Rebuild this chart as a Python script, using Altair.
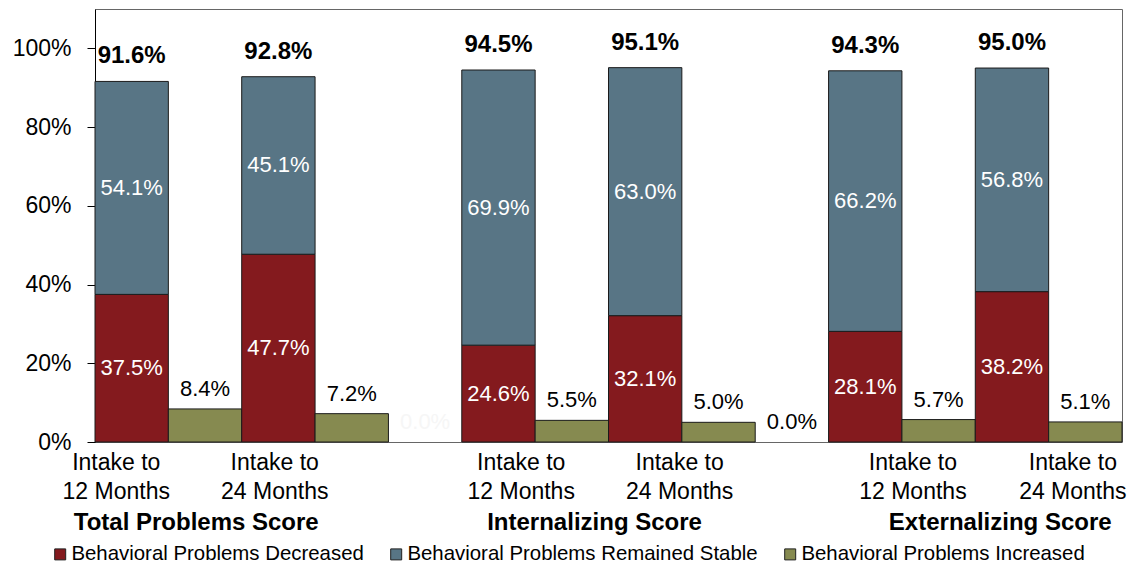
import altair as alt
import pandas as pd

# ---------------- data ----------------
scores = ["Total Problems Score", "Internalizing Score", "Externalizing Score"]
periods = ["Intake to\n12 Months", "Intake to\n24 Months"]
series = [
    "Behavioral Problems Decreased",
    "Behavioral Problems Remained Stable",
    "Behavioral Problems Increased",
]
decreased = [37.5, 47.7, 24.6, 32.1, 28.1, 38.2]
stable = [54.1, 45.1, 69.9, 63.0, 66.2, 56.8]
increased = [8.4, 7.2, 5.5, 5.0, 5.7, 5.1]
totals = [91.6, 92.8, 94.5, 95.1, 94.3, 95.0]
gap_values = [0.0, 0.0]
y_ticks = [0, 20, 40, 60, 80, 100]

# ---------------- layout (slot units on the x scale) ----------------
period_label_x = [0.29, 2.45, 5.81, 7.97, 11.15, 13.33]
score_label_x = [1.38, 6.81, 12.34]
gap_slots = [4, 9]
gap_colors = ["#f6f6f6", "#000000"]

FONT = "Liberation Sans"
colors = ["#841A1E", "#587585", "#868A50"]

bars, inside, inc_lbl, tot_lbl, xl = [], [], [], [], []
for g in range(3):
    for p in range(2):
        i = g * 2 + p
        s = g * 5 + p * 2
        bars.append(dict(x0=s, x1=s + 1, y0=0, y1=decreased[i], series=series[0]))
        bars.append(dict(x0=s, x1=s + 1, y0=decreased[i],
                         y1=decreased[i] + stable[i], series=series[1]))
        bars.append(dict(x0=s + 1, x1=s + 2, y0=0, y1=increased[i], series=series[2]))
        inside.append(dict(x=s + 0.5, y=decreased[i] / 2, label=f"{decreased[i]:.1f}%"))
        inside.append(dict(x=s + 0.5, y=decreased[i] + stable[i] / 2, label=f"{stable[i]:.1f}%"))
        inc_lbl.append(dict(x=s + 1.5, y=increased[i], label=f"{increased[i]:.1f}%", c="#000000"))
        tot_lbl.append(dict(x=s + 0.5, y=totals[i], label=f"{totals[i]:.1f}%"))
        xl.append(dict(x=period_label_x[i], label=periods[p]))
for k, gs in enumerate(gap_slots):
    inc_lbl.append(dict(x=gs + 0.5, y=gap_values[k], label=f"{gap_values[k]:.1f}%", c=gap_colors[k]))

df_bars = pd.DataFrame(bars)
df_in = pd.DataFrame(inside)
df_inc = pd.DataFrame(inc_lbl)
df_tot = pd.DataFrame(tot_lbl)
df_xl = pd.DataFrame(xl)
df_sc = pd.DataFrame(dict(x=score_label_x, label=scores))

xscale = alt.Scale(domain=[0, 14], nice=False, zero=False)
yscale = alt.Scale(domain=[0, 110], nice=False)
yaxis = alt.Axis(values=y_ticks, labelExpr="datum.value + '%'", tickSize=8,
                 tickColor="#000", domainColor="#000", labelFontSize=23,
                 labelFont=FONT, labelColor="#000", labelPadding=16,
                 grid=False, title=None)

X = lambda f: alt.X(f, scale=xscale, axis=None)
Y = lambda f: alt.Y(f, scale=yscale, axis=yaxis)

bar_layer = alt.Chart(df_bars).mark_rect(stroke="#1a1a1a", strokeWidth=1).encode(
    x=X("x0:Q"), x2="x1", y=Y("y0:Q"), y2="y1",
    color=alt.Color("series:N",
                    scale=alt.Scale(domain=series, range=colors),
                    legend=alt.Legend(title=None, orient="none", legendX=-45, legendY=535,
                                      direction="horizontal", symbolType="square",
                                      symbolSize=121, symbolStrokeColor="#222",
                                      symbolStrokeWidth=1, symbolOpacity=1,
                                      labelFontSize=20.4, labelFont=FONT,
                                      labelColor="#000", columnPadding=22,
                                      labelOffset=1, labelLimit=0)),
)

in_layer = alt.Chart(df_in).mark_text(color="white", fontSize=22, font=FONT,
                                      baseline="middle").encode(
    x=X("x:Q"), y=Y("y:Q"), text="label:N")

inc_layer = alt.Chart(df_inc).mark_text(fontSize=22, font=FONT, baseline="middle",
                                        dy=-20).encode(
    x=X("x:Q"), y=Y("y:Q"), text="label:N",
    color=alt.Color("c:N", scale=None))

tot_layer = alt.Chart(df_tot).mark_text(fontSize=24, font=FONT, fontWeight="bold",
                                        color="black", baseline="middle", dy=-25).encode(
    x=X("x:Q"), y=Y("y:Q"), text="label:N")

xl_layer = alt.Chart(df_xl).mark_text(fontSize=23, font=FONT, color="black",
                                      lineBreak="\n", lineHeight=28.5,
                                      baseline="alphabetic").encode(
    x=X("x:Q"), y=alt.value(461), text="label:N")

sc_layer = alt.Chart(df_sc).mark_text(fontSize=24, font=FONT, fontWeight="bold",
                                      color="black", baseline="alphabetic").encode(
    x=X("x:Q"), y=alt.value(521), text="label:N")

chart = alt.layer(bar_layer, in_layer, inc_layer, tot_layer, xl_layer, sc_layer).properties(
    width=1027, height=433,
    padding={"left": 95, "top": 9, "right": 14, "bottom": 122},
    autosize=alt.AutoSizeParams(type="none"),
    background="white",
).configure_view(stroke="#666", strokeWidth=1)

chart.save("out.html", embed_options={"renderer": "svg", "actions": False})
